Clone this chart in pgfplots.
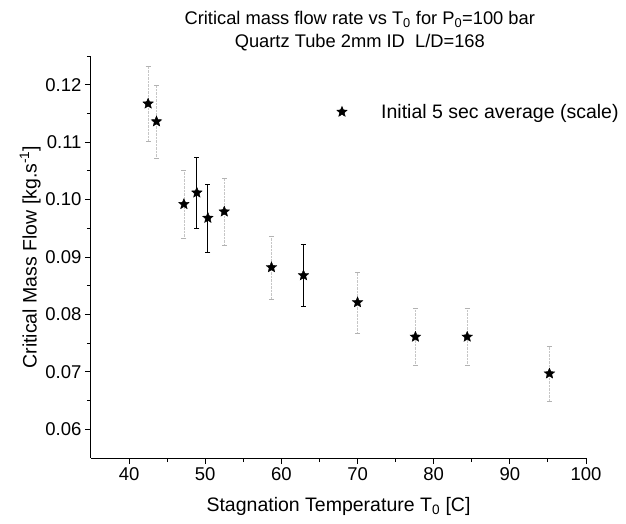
\documentclass[border=0pt]{standalone}
\usepackage{fontspec}
\setmainfont{Liberation Sans}
\usepackage{pgfplots}
\usepackage{pgfplotstable}
\pgfplotsset{compat=1.18}

% filled five-point star mark
\pgfdeclareplotmark{fstar}{%
  \pgfpathmoveto{\pgfpointpolar{90}{\pgfplotmarksize}}%
  \pgfpathlineto{\pgfpointpolar{126}{0.45\pgfplotmarksize}}%
  \pgfpathlineto{\pgfpointpolar{162}{\pgfplotmarksize}}%
  \pgfpathlineto{\pgfpointpolar{198}{0.45\pgfplotmarksize}}%
  \pgfpathlineto{\pgfpointpolar{234}{\pgfplotmarksize}}%
  \pgfpathlineto{\pgfpointpolar{270}{0.45\pgfplotmarksize}}%
  \pgfpathlineto{\pgfpointpolar{306}{\pgfplotmarksize}}%
  \pgfpathlineto{\pgfpointpolar{342}{0.45\pgfplotmarksize}}%
  \pgfpathlineto{\pgfpointpolar{18}{\pgfplotmarksize}}%
  \pgfpathlineto{\pgfpointpolar{54}{0.45\pgfplotmarksize}}%
  \pgfpathclose
  \pgfusepathqfillstroke}

% points whose error bars came out faint in the scan
\pgfplotstableread{
T     m       e
42.5  0.1167  0.0066
43.6  0.1136  0.0064
47.2  0.0992  0.0059
52.5  0.0979  0.0059
58.7  0.0882  0.0055
70.0  0.0821  0.0053
77.6  0.0761  0.0050
84.4  0.0761  0.0050
95.2  0.0697  0.0048
}\faint
% points with solid error bars
\pgfplotstableread{
T     m       e
48.9  0.1012  0.0062
50.35 0.0968  0.0059
62.9  0.0868  0.0054
}\solid

\begin{document}
\begin{tikzpicture}
\begin{axis}[
  scale only axis,
  width=495pt, height=402pt,
  xmin=35, xmax=100,
  ymin=0.055, ymax=0.125,
  axis lines*=left,
  axis line style={line width=1pt},
  tick align=outside,
  tick style={black, line width=0.9pt},
  major tick length=6pt,
  minor tick length=4pt,
  xtick={40,50,60,70,80,90,100},
  minor xtick={45,55,65,75,85,95},
  ytick={0.06,0.07,0.08,0.09,0.10,0.11,0.12},
  minor ytick={0.065,0.075,0.085,0.095,0.105,0.115,0.125},
  yticklabel style={/pgf/number format/.cd, fixed, fixed zerofill, precision=2},
  /pgf/number format/assume math mode=true,
  ticklabel style={font=\fontsize{18.5}{20}\selectfont},
  label style={font=\fontsize{19.5}{22}\selectfont},
  xlabel style={yshift=-10pt},
  ylabel style={yshift=-2pt},
  xlabel={Stagnation Temperature T\textsubscript{0} [C]},
  ylabel={Critical Mass Flow [kg.s\textsuperscript{-1}]},
  title style={font=\fontsize{18.3}{23}\selectfont, align=center, at={(0.543,1)}, anchor=south, yshift=-4pt},
  title={Critical mass flow rate vs T\textsubscript{0} for P\textsubscript{0}=100 bar\\Quartz Tube 2mm ID \ L/D=168},
  legend style={draw=none, fill=none, at={(0.49,0.861)}, anchor=west,
    font=\fontsize{19.5}{22}\selectfont},
  legend cell align=left,
  clip=false,
]
\addplot[only marks, mark=fstar, mark size=5.5pt, black,
  error bars/.cd, y dir=both, y explicit,
  error bar style={gray!45, densely dotted, line width=0.8pt},
  error mark options={rotate=90, mark size=2.5pt, gray!60, solid}]
  table[x=T, y=m, y error=e] {\faint};
\addlegendentry{\hspace{32pt}Initial 5 sec average (scale)}
\addplot[only marks, mark=fstar, mark size=5.5pt, black,
  error bars/.cd, y dir=both, y explicit,
  error bar style={black, line width=0.9pt},
  error mark options={rotate=90, mark size=2.5pt, black}]
  table[x=T, y=m, y error=e] {\solid};
\end{axis}
\pgfresetboundingbox
\useasboundingbox (-91pt,-65pt) rectangle (535pt,458pt);
\end{tikzpicture}
\end{document}
